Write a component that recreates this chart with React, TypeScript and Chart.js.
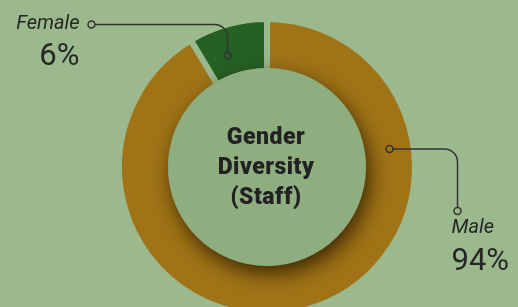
import { useEffect, useRef } from 'react';
import { Chart, registerables } from 'chart.js';

Chart.register(...registerables);

// ---- data ----
const categories = ['Male', 'Female'];
const arcShares = [91.4, 8.6];
const percentLabels = ['94%', '6%'];
const centerTitle = ['Gender', 'Diversity', '(Staff)'];
const segmentColors = ['#a07416', '#256024'];

const BG = '#9cb98e';
const CENTER_FILL = '#8fae80';
const INK = '#262626';
const GAP = 6;

function arcPoint(el: any, frac: number, radialFrac: number) {
  const { x, y, startAngle, endAngle, innerRadius, outerRadius } = el.getProps(
    ['x', 'y', 'startAngle', 'endAngle', 'innerRadius', 'outerRadius'],
    true
  );
  const inner = innerRadius + GAP / 2;
  const outer = outerRadius - GAP / 2;
  const a = startAngle + (endAngle - startAngle) * frac;
  const r = inner + (outer - inner) * radialFrac;
  return { px: x + Math.cos(a) * r, py: y + Math.sin(a) * r, cx: x, cy: y, inner };
}

const overlay = {
  id: 'overlay',
  afterDatasetsDraw(chart: any) {
    const ctx: CanvasRenderingContext2D = chart.ctx;
    const meta = chart.getDatasetMeta(0);
    const male = meta.data[0];
    const female = meta.data[1];

    const base = arcPoint(male, 0, 0);

    // center disc with shadow
    ctx.save();
    ctx.shadowColor = 'rgba(45,28,0,0.85)';
    ctx.shadowBlur = 20;
    ctx.shadowOffsetX = 4;
    ctx.shadowOffsetY = 8;
    ctx.fillStyle = CENTER_FILL;
    ctx.beginPath();
    ctx.arc(base.cx, base.cy, base.inner, 0, Math.PI * 2);
    ctx.fill();
    ctx.restore();

    // center title
    ctx.save();
    ctx.fillStyle = '#222222';
    ctx.font = '900 23px Roboto';
    (ctx as any).letterSpacing = '0.5px';
    ctx.textAlign = 'center';
    ctx.textBaseline = 'middle';
    centerTitle.forEach((line, i) => {
      ctx.fillText(line, base.cx - 1, base.cy - 29 + i * 30);
    });
    ctx.restore();

    const rad = 13;
    const dot = 3.5;
    ctx.save();
    ctx.strokeStyle = '#333333';
    ctx.lineWidth = 1.5;

    // Female leader (up, then left)
    const f = arcPoint(female, 0.37, 0.42);
    const fTop = f.py - 31;
    const fEnd = f.px - 136;
    ctx.beginPath();
    ctx.moveTo(f.px, f.py - dot);
    ctx.lineTo(f.px, fTop + rad);
    ctx.arcTo(f.px, fTop, f.px - rad, fTop, rad);
    ctx.lineTo(fEnd + dot, fTop);
    ctx.stroke();
    ctx.beginPath();
    ctx.arc(f.px, f.py, dot, 0, Math.PI * 2);
    ctx.stroke();
    ctx.beginPath();
    ctx.arc(fEnd, fTop, dot, 0, Math.PI * 2);
    ctx.stroke();

    // Male leader (right, then down)
    const m = arcPoint(male, 0.248, 0.54);
    const mX = m.px + 68;
    const mEnd = m.py + 62;
    ctx.beginPath();
    ctx.moveTo(m.px + dot, m.py);
    ctx.lineTo(mX - rad, m.py);
    ctx.arcTo(mX, m.py, mX, m.py + rad, rad);
    ctx.lineTo(mX, mEnd - dot);
    ctx.stroke();
    ctx.beginPath();
    ctx.arc(m.px, m.py, dot, 0, Math.PI * 2);
    ctx.stroke();
    ctx.beginPath();
    ctx.arc(mX, mEnd, dot, 0, Math.PI * 2);
    ctx.stroke();
    ctx.restore();

    // label texts
    ctx.save();
    ctx.fillStyle = INK;
    ctx.textBaseline = 'middle';
    ctx.textAlign = 'right';
    ctx.font = 'italic 400 20px Roboto';
    ctx.fillText(categories[1], fEnd - 12, fTop);
    ctx.font = '400 31px Roboto';
    ctx.fillText(percentLabels[1], fEnd - 12, fTop + 33);
    ctx.textAlign = 'left';
    ctx.font = 'italic 400 20px Roboto';
    ctx.fillText(categories[0], mX - 6, mEnd + 17);
    ctx.font = '400 31px Roboto';
    ctx.fillText(percentLabels[0], mX - 6, mEnd + 51);
    ctx.restore();
  },
};

export default function App() {
  const ref = useRef<HTMLCanvasElement>(null);
  useEffect(() => {
    if (!ref.current) return;
    const chart = new Chart(ref.current, {
      type: 'doughnut',
      data: {
        labels: categories,
        datasets: [
          {
            data: arcShares,
            backgroundColor: segmentColors,
            borderColor: BG,
            borderWidth: GAP,
            borderAlign: 'center',
            hoverOffset: 0,
          } as any,
        ],
      },
      options: {
        responsive: false,
        animation: false,
        radius: 145 + GAP / 2,
        cutout: ((99 - GAP / 2) / (145 + GAP / 2)) * 100 + '%',
        layout: { padding: 0 },
        plugins: {
          legend: { display: false },
          tooltip: { enabled: false },
        },
        events: [],
      } as any,
      plugins: [overlay],
    });
    return () => chart.destroy();
  }, []);
  return (
    <div
      style={{
        position: 'fixed',
        left: 0,
        top: 0,
        width: 518,
        height: 307,
        overflow: 'hidden',
        background: BG,
      }}
    >
      <canvas ref={ref} width={534} height={334} style={{ display: 'block', width: 534, height: 334 }} />
    </div>
  );
}
